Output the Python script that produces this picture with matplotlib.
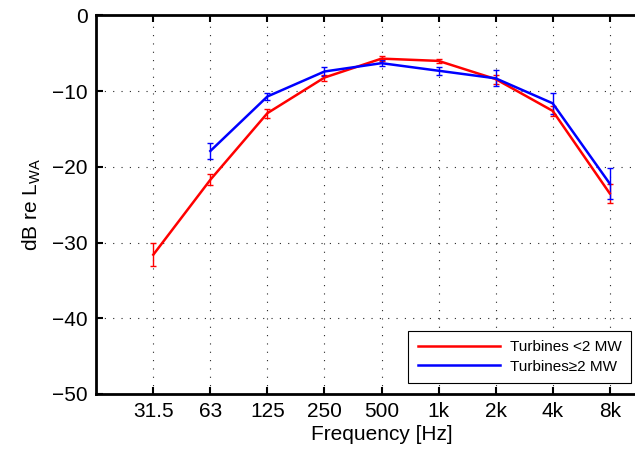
import numpy as np
import matplotlib
matplotlib.use('Agg')
import matplotlib.pyplot as plt

# octave bands, labels as on the x axis
freq_labels = ['31.5', '63', '125', '250', '500', '1k', '2k', '4k', '8k']

# turbines < 2 MW (all bands)
small_mean = [-31.6, -21.7, -12.9, -8.2, -5.7, -6.0, -8.4, -12.6, -23.5]
small_err = [1.5, 0.7, 0.6, 0.4, 0.3, 0.3, 0.6, 0.7, 1.3]

# turbines >= 2 MW (from 63 Hz)
large_mean = [-17.9, -10.7, -7.4, -6.3, -7.3, -8.3, -11.6, -22.2]
large_err = [1.1, 0.5, 0.6, 0.4, 0.5, 1.05, 1.4, 2.1]

plt.rcParams['font.family'] = ['Liberation Sans', 'DejaVu Sans']
plt.rcParams['mathtext.default'] = 'regular'

fig = plt.figure(figsize=(6.35, 4.54), dpi=100)
# axes runs a bit past the right edge, like the cropped original
ax = fig.add_axes([0.1516, 0.1322, 0.8984, 0.8337])

x_small = np.arange(1, len(freq_labels) + 1)
x_large = x_small[1:]

ax.errorbar(x_small, small_mean, yerr=small_err, fmt='none', ecolor='red',
            elinewidth=1.0, capsize=2.2, capthick=1.0, zorder=3)
ax.errorbar(x_large, large_mean, yerr=large_err, fmt='none', ecolor='blue',
            elinewidth=1.0, capsize=2.2, capthick=1.0, zorder=3)
ax.plot(x_small, small_mean, color='red', lw=1.8, label='Turbines <2 MW', zorder=4)
ax.plot(x_large, large_mean, color='blue', lw=1.8, label='Turbines\u22652 MW', zorder=4)

ax.set_xlim(0, 10)
ax.set_ylim(-50, 0)
ax.set_xticks(x_small)
ax.set_xticklabels(freq_labels)
ax.set_yticks([0, -10, -20, -30, -40, -50])

ax.grid(True, color='0.15', linestyle=(0, (1, 6.5)), linewidth=0.8)
ax.set_axisbelow(True)

for s in ax.spines.values():
    s.set_linewidth(2.0)
ax.tick_params(direction='in', length=5, width=1.5, top=True, right=True,
               labelsize=15, pad=6)

ax.set_xlabel('Frequency [Hz]', fontsize=15, labelpad=3)
ax.set_ylabel(r'dB re L$_{WA}$', fontsize=15, labelpad=7)

leg = ax.legend(loc='lower right', bbox_to_anchor=(630.7 / 635, 71.3 / 454),
                bbox_transform=fig.transFigure, borderaxespad=0, fontsize=11,
                fancybox=False, edgecolor='black', framealpha=1,
                handlelength=5.4, handletextpad=0.63, borderpad=0.6,
                labelspacing=0.35)
leg.get_frame().set_linewidth(0.8)

fig.savefig('out.png', dpi=100)
